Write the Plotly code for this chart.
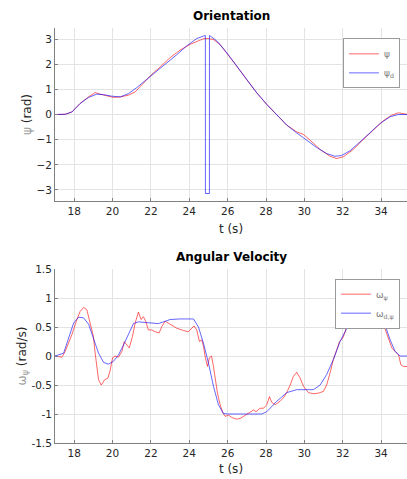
import plotly.graph_objects as go

# ---------------- Orientation data ----------------
t_psi = [17.0, 17.53, 17.88, 18.31, 18.75, 19.09, 19.35, 19.7, 20.05, 20.4, 20.83, 21.18, 21.61,
         22.05, 22.48, 23.0, 23.52, 24.04, 24.48, 24.77, 25.0, 25.26, 25.6, 25.95, 26.47, 26.99,
         27.51, 28.03, 28.56, 29.08, 29.6, 29.95, 30.3, 30.82, 31.34, 31.68, 32.03, 32.55, 33.07,
         33.59, 34.11, 34.55, 34.9, 35.35]
psi = [0.0, 0.01, 0.1, 0.44, 0.7, 0.87, 0.81, 0.73, 0.68, 0.70, 0.77, 0.9, 1.26,
       1.6, 1.89, 2.26, 2.56, 2.79, 2.93, 3.02, 3.02, 2.98, 2.79, 2.46, 1.93, 1.39,
       0.87, 0.41, -0.03, -0.42, -0.69, -0.79, -1.02, -1.39, -1.66, -1.75, -1.68, -1.39, -0.99,
       -0.62, -0.25, -0.03, 0.07, 0.01]

t_psi_d = [17.0, 17.53, 17.88, 18.31, 18.75, 19.18, 19.53, 19.96, 20.4, 20.83, 21.26, 21.78,
           22.31, 22.83, 23.35, 23.87, 24.39, 24.74, 24.84, 24.841, 25.05, 25.051, 25.08, 25.43,
           25.95, 26.47, 26.99, 27.51, 28.03, 28.56, 29.08, 29.6, 30.12, 30.64, 31.16, 31.59,
           31.94, 32.38, 32.9, 33.42, 33.94, 34.46, 34.9, 35.35]
psi_d = [0.0, 0.01, 0.1, 0.44, 0.68, 0.81, 0.79, 0.73, 0.70, 0.83, 1.07, 1.39,
         1.72, 2.05, 2.38, 2.73, 3.02, 3.12, 3.14, -3.14, -3.14, 3.14, 3.13, 2.93,
         2.46, 1.93, 1.39, 0.87, 0.41, -0.03, -0.42, -0.73, -1.02, -1.31, -1.55, -1.66,
         -1.63, -1.44, -1.09, -0.73, -0.36, -0.09, 0.0, 0.0]

# ---------------- Angular velocity data ----------------
t_w = [17.0, 17.36, 17.53, 17.88, 18.14, 18.31, 18.49, 18.66, 18.83, 19.0, 19.09, 19.18, 19.27,
       19.41, 19.58, 19.76, 19.88, 20.0, 20.14, 20.31, 20.49, 20.61, 20.75, 20.87, 21.04, 21.18,
       21.35, 21.49, 21.61, 21.73, 21.87, 22.05, 22.22, 22.43, 22.57, 22.74, 23.0, 23.35, 23.7,
       23.96, 24.13, 24.25, 24.39, 24.53, 24.65, 24.74, 24.84, 24.95, 25.05, 25.16, 25.26, 25.36,
       25.47, 25.61, 25.75, 25.87, 26.05, 26.22, 26.48, 26.69, 26.91, 27.17, 27.35, 27.48, 27.69,
       27.87, 28.04, 28.18, 28.3, 28.48, 28.73, 28.91, 29.08, 29.26, 29.43, 29.6, 29.78, 29.95,
       30.21, 30.47, 30.73, 30.99, 31.16, 31.34, 31.51, 31.69, 31.83, 32.0, 32.13, 32.27, 32.39,
       32.53, 32.74, 33.0, 33.26, 33.52, 33.69, 33.87, 34.04, 34.21, 34.39, 34.56, 34.73, 34.91,
       35.03, 35.17, 35.36]
w = [0.0, -0.02, 0.08, 0.37, 0.63, 0.77, 0.84, 0.80, 0.57, 0.34, 0.06, -0.24, -0.41,
     -0.5, -0.41, -0.38, -0.24, -0.03, 0.0, -0.02, 0.08, 0.25, 0.19, 0.14, 0.34, 0.57,
     0.76, 0.63, 0.68, 0.6, 0.45, 0.45, 0.42, 0.4, 0.51, 0.6, 0.55, 0.48, 0.44,
     0.42, 0.48, 0.52, 0.45, 0.25, 0.28, 0.17, -0.03, -0.18, -0.03, 0.0, -0.18, -0.44,
     -0.64, -0.84, -0.98, -1.04, -1.02, -1.06, -1.09, -1.07, -1.02, -0.96, -0.93, -0.96, -0.9,
     -0.9, -0.84, -0.7, -0.8, -0.84, -0.78, -0.72, -0.63, -0.5, -0.35, -0.28, -0.38, -0.52,
     -0.63, -0.65, -0.64, -0.61, -0.5, -0.29, -0.06, 0.11, 0.25, 0.31, 0.42, 0.6, 0.77,
     0.79, 0.68, 0.64, 0.66, 0.69, 0.74, 0.71, 0.62, 0.45, 0.28, 0.14, 0.08, 0.02,
     -0.15, -0.18, -0.18]

t_w_d = [17.0, 17.45, 17.71, 17.97, 18.23, 18.49, 18.75, 19.0, 19.27, 19.53, 19.79, 20.05,
         20.31, 20.57, 20.83, 21.09, 21.35, 21.87, 22.39, 22.65, 23.0, 23.5, 24.22, 24.48,
         24.74, 25.0, 25.26, 25.52, 25.78, 26.0, 27.78, 28.04, 28.56, 29.09, 29.6, 30.47,
         30.82, 31.16, 31.51, 31.86, 32.21, 32.56, 32.91, 33.43, 33.95, 34.21, 34.47, 34.73,
         34.99, 35.36]
w_d = [0.0, 0.05, 0.31, 0.57, 0.67, 0.66, 0.55, 0.31, 0.05, -0.11, -0.14, -0.09,
       0.02, 0.19, 0.39, 0.56, 0.59, 0.58, 0.56, 0.59, 0.63, 0.64, 0.64, 0.5,
       0.22, -0.12, -0.52, -0.84, -0.99, -1.0, -1.0, -0.96, -0.78, -0.63, -0.58, -0.58,
       -0.5, -0.32, -0.06, 0.25, 0.48, 0.62, 0.69, 0.7, 0.69, 0.53, 0.28, 0.08,
       0.0, 0.0]

x_ticks = [18, 20, 22, 24, 26, 28, 30, 32, 34]
y1_ticks = [-3, -2, -1, 0, 1, 2, 3]
y2_ticks = [-1.5, -1, -0.5, 0, 0.5, 1, 1.5]
y2_ticktext = ["-1.5", "-1", "-0.5", "0", "0.5", "1", "1.5"]

RED = "rgba(255,0,0,0.6)"
BLUE = "rgba(0,0,255,0.6)"
FONT = "DejaVu Sans"
TXT = "#262626"

fig = go.Figure()
fig.add_trace(go.Scatter(x=t_psi, y=psi, mode="lines", line=dict(color=RED, width=1),
                         name="ψ", xaxis="x", yaxis="y", legend="legend"))
fig.add_trace(go.Scatter(x=t_psi_d, y=psi_d, mode="lines", line=dict(color=BLUE, width=1),
                         name="ψ<sub>d</sub>", xaxis="x", yaxis="y", legend="legend"))
fig.add_trace(go.Scatter(x=t_w, y=w, mode="lines", line=dict(color=RED, width=1),
                         name="ω<sub>ψ</sub>", xaxis="x2", yaxis="y2", legend="legend2"))
fig.add_trace(go.Scatter(x=t_w_d, y=w_d, mode="lines", line=dict(color=BLUE, width=1),
                         name="ω<sub>d,ψ</sub>", xaxis="x2", yaxis="y2", legend="legend2"))

axis_common = dict(showgrid=True, gridcolor="#e3e3e3", gridwidth=1, zeroline=False,
                   showline=True, linecolor="#808080", linewidth=1, ticks="inside",
                   ticklen=3, tickcolor="#808080", tickfont=dict(family=FONT, size=10.5, color=TXT),
                   mirror=False)

fig.update_layout(
    width=407, height=479,
    margin=dict(l=55, r=0, t=28, b=36),
    paper_bgcolor="white", plot_bgcolor="white",
    font=dict(family=FONT, color=TXT),
    xaxis=dict(domain=[0, 1], range=[17.0, 35.35], tickvals=x_ticks, anchor="y",
               title=dict(text="t (s)", font=dict(size=12, color=TXT), standoff=8), **axis_common),
    yaxis=dict(domain=[0.583, 1], range=[-3.44, 3.44], tickvals=y1_ticks, anchor="x",
               title=dict(text="<span style='color:#9a9a9a'>ψ</span> (rad)",
                          font=dict(size=12, color=TXT), standoff=2), **axis_common),
    xaxis2=dict(domain=[0, 1], range=[17.0, 35.35], tickvals=x_ticks, anchor="y2",
                title=dict(text="t (s)", font=dict(size=12, color=TXT), standoff=7), **axis_common),
    yaxis2=dict(domain=[0, 0.419], range=[-1.5, 1.5], tickvals=y2_ticks, ticktext=y2_ticktext,
                anchor="x2",
                title=dict(text="<span style='color:#9a9a9a'>ω<sub>ψ</sub></span> (rad/s)",
                           font=dict(size=12, color=TXT), standoff=2), **axis_common),
    legend=dict(x=0.98, y=0.975, xanchor="right", yanchor="top", bgcolor="white",
                bordercolor="#9a9a9a", borderwidth=1, font=dict(family=FONT, size=9, color="#7a7a7a"),
                tracegroupgap=0, itemwidth=30),
    legend2=dict(x=0.98, y=0.396, xanchor="right", yanchor="top", bgcolor="white",
                 bordercolor="#9a9a9a", borderwidth=1, font=dict(family=FONT, size=9, color="#7a7a7a"),
                 tracegroupgap=0, itemwidth=30),
    annotations=[
        dict(text="<b>Orientation</b>", x=0.5, y=1, xref="paper", yref="paper",
             xanchor="center", yanchor="bottom", yshift=3, showarrow=False,
             font=dict(family=FONT, size=12, color="black")),
        dict(text="<b>Angular Velocity</b>", x=0.5, y=0.419, xref="paper", yref="paper",
             xanchor="center", yanchor="bottom", yshift=3, showarrow=False,
             font=dict(family=FONT, size=12, color="black")),
    ],
)

fig.write_html("out.html")
